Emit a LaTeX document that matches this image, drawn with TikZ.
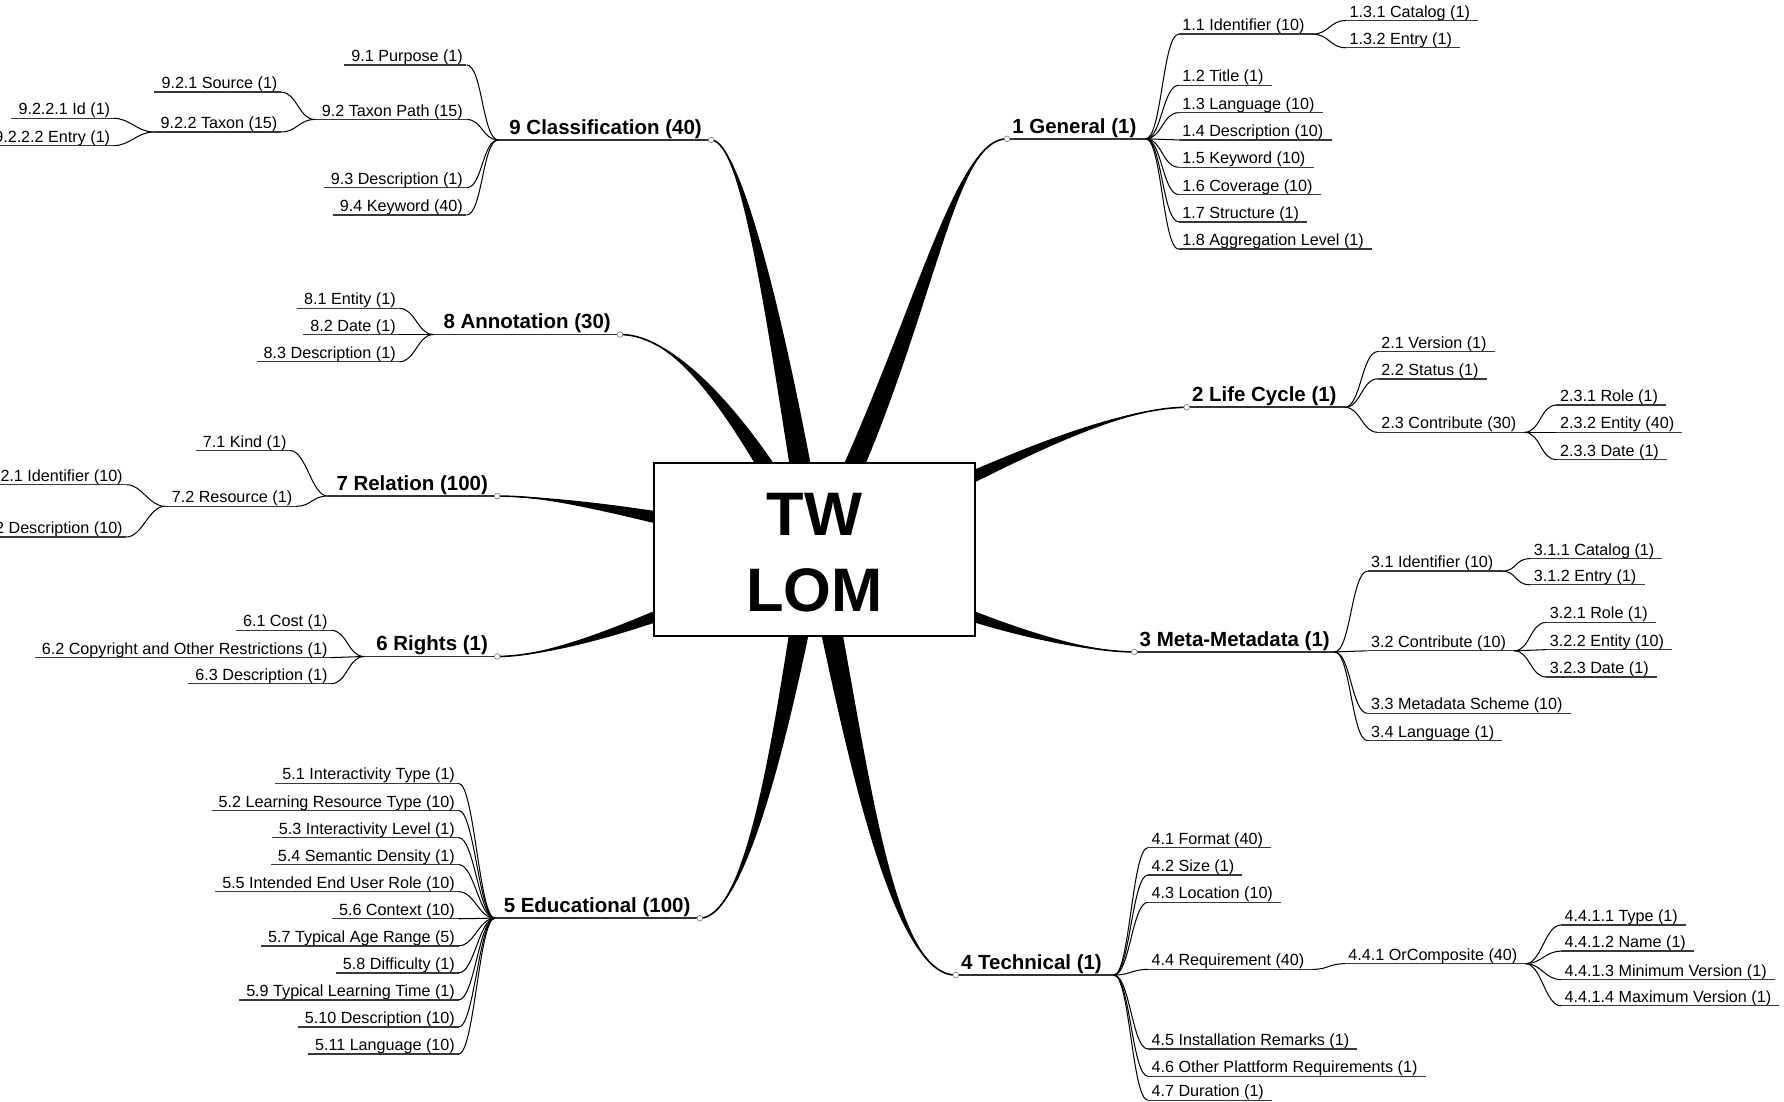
\documentclass[tikz,border=0pt]{standalone}
\usepackage{fontspec}
\setmainfont{Liberation Sans}
\usetikzlibrary{calc}

\tikzset{
  leaf/.style={inner sep=0pt, font=\fontsize{14.2}{17}\selectfont},
  head/.style={inner sep=0pt, font=\bfseries\fontsize{18}{21}\selectfont},
  uline/.style={draw=black!78, line width=1.2pt},
  hline/.style={draw=black!80, line width=1.5pt},
  twig/.style={draw=black, line width=0.9pt},
  knob/.style={circle, draw=black!50, fill=white, line width=0.6pt, inner sep=0pt, minimum size=5pt},
  limbfill/.style={fill=black},
  limbline/.style={draw=black, line width=1.4pt},
  hubbox/.style={draw=black, line width=1.3pt, fill=white, minimum width=282pt, minimum height=152pt, inner sep=0pt},
  hubtext/.style={font=\bfseries\fontsize{54}{67}\selectfont, align=center, inner sep=0pt},
}

% leaf to the right of its parent: name, underline start x, underline y, text
\newcommand\leafR[4]{%
  \coordinate (#1-a) at (#2,#3);
  \node[leaf, anchor=base west] (#1) at ([xshift=3pt,yshift=3pt]#1-a) {#4};
  \path (#1.east |- #1-a) ++(7,0) coordinate (#1-b);
  \draw[uline] (#1-a) -- (#1-b);}
% leaf to the left of its parent: name, underline end x, underline y, text
\newcommand\leafL[4]{%
  \coordinate (#1-a) at (#2,#3);
  \node[leaf, anchor=base east] (#1) at ([xshift=-3pt,yshift=3pt]#1-a) {#4};
  \path (#1.west |- #1-a) ++(-6,0) coordinate (#1-b);
  \draw[uline] (#1-b) -- (#1-a);}
% fan curves
\newcommand\twigR[2]{\draw[twig] (#1) .. controls +(14,0) and +(-14,0) .. (#2);}
\newcommand\twigL[2]{\draw[twig] (#1) .. controls +(-14,0) and +(14,0) .. (#2);}
% main topic labels
\newcommand\headR[2]{%
  \draw[hline] (#1-k) -- (#1-f);
  \node[head, anchor=base west] (#1) at ([xshift=4.5pt,yshift=5pt]#1-k) {#2};
  \node[knob] (#1-o) at (#1-k) {};}
\newcommand\headL[2]{%
  \draw[hline] (#1-f) -- (#1-k);
  \node[head, anchor=base east] (#1) at ([xshift=-8pt,yshift=5pt]#1-k) {#2};
  \node[knob] (#1-o) at (#1-k) {};}
% tapered main branch from the hub: end, control 1, control 2, half width
\newcommand\limb[4]{%
  \fill[limbfill] ($(hub)+(#4)$) .. controls ($(#2)+(#4)$) and (#3) .. (#1)
     .. controls (#3) and ($(#2)-(#4)$) .. ($(hub)-(#4)$) -- cycle;
  \draw[limbline] (hub) .. controls (#2) and (#3) .. (#1);}

\begin{document}
\begin{tikzpicture}[x=1pt, y=-1pt]
\useasboundingbox (0,0) rectangle (1568,968);
\clip (0,0) rectangle (1568,968);
\fill[white] (0,0) rectangle (1568,968);

% hub and main topic anchors
\coordinate (hub) at (716,483);
\coordinate (h1-k) at (885,122);  \coordinate (h1-f) at (1007,122);
\coordinate (h2-k) at (1043,358); \coordinate (h2-f) at (1182,358);
\coordinate (h3-k) at (997,573);  \coordinate (h3-f) at (1173,573);
\coordinate (h4-k) at (840,857);  \coordinate (h4-f) at (979,857);
\coordinate (h5-k) at (615,807);  \coordinate (h5-f) at (435,807);
\coordinate (h6-k) at (437,577);  \coordinate (h6-f) at (320,577);
\coordinate (h7-k) at (437,436);  \coordinate (h7-f) at (288,436);
\coordinate (h8-k) at (545,294);  \coordinate (h8-f) at (381,294);
\coordinate (h9-k) at (625,123);  \coordinate (h9-f) at (438,123);

% main branches
\limb{h1-k}{810,300}{835,122}{10,0}
\limb{h9-k}{690,330}{655,123}{10,0}
\limb{h8-k}{660,380}{600,294}{10,0}
\limb{h7-k}{600,460}{500,436}{0,9}
\limb{h6-k}{610,530}{500,577}{0,9}
\limb{h2-k}{820,440}{960,358}{0,9}
\limb{h3-k}{810,530}{930,573}{0,9}
\limb{h5-k}{700,560}{665,807}{10,0}
\limb{h4-k}{750,640}{780,857}{10,0}

% central topic
\node[hubbox] (root) at (hub) {};
\node[hubtext] (roottext) at (716,486) {TW\\LOM};

% 1 General
\headR{h1}{1 General (1)}
\leafR{l11}{1036}{30}{1.1 Identifier (10)}
\leafR{l131}{1183}{18}{1.3.1 Catalog (1)}
\leafR{l132}{1183}{42}{1.3.2 Entry (1)}
\leafR{l12}{1036}{75}{1.2 Title (1)}
\leafR{l13}{1036}{99}{1.3 Language (10)}
\leafR{l14}{1036}{123}{1.4 Description (10)}
\leafR{l15}{1036}{147}{1.5 Keyword (10)}
\leafR{l16}{1036}{171}{1.6 Coverage (10)}
\leafR{l17}{1036}{195}{1.7 Structure (1)}
\leafR{l18}{1036}{219}{1.8 Aggregation Level (1)}
\foreach \c in {l11,l12,l13,l14,l15,l16,l17,l18} {\twigR{h1-f}{\c-a}}
\twigR{l11-b}{l131-a}
\twigR{l11-b}{l132-a}

% 2 Life Cycle
\headR{h2}{2 Life Cycle (1)}
\leafR{l21}{1211}{309}{2.1 Version (1)}
\leafR{l22}{1211}{333}{2.2 Status (1)}
\leafR{l23}{1211}{380}{2.3 Contribute (30)}
\leafR{l231}{1368}{356}{2.3.1 Role (1)}
\leafR{l232}{1368}{380}{2.3.2 Entity (40)}
\leafR{l233}{1368}{404}{2.3.3 Date (1)}
\foreach \c in {l21,l22,l23} {\twigR{h2-f}{\c-a}}
\foreach \c in {l231,l232,l233} {\twigR{l23-b}{\c-a}}

% 3 Meta-Metadata
\headR{h3}{3 Meta-Metadata (1)}
\leafR{l31}{1202}{502}{3.1 Identifier (10)}
\leafR{l311}{1345}{491}{3.1.1 Catalog (1)}
\leafR{l312}{1345}{514}{3.1.2 Entry (1)}
\leafR{l32}{1202}{572}{3.2 Contribute (10)}
\leafR{l321}{1359}{547}{3.2.1 Role (1)}
\leafR{l322}{1359}{571}{3.2.2 Entity (10)}
\leafR{l323}{1359}{595}{3.2.3 Date (1)}
\leafR{l33}{1202}{627}{3.3 Metadata Scheme (10)}
\leafR{l34}{1202}{651}{3.4 Language (1)}
\foreach \c in {l31,l32,l33,l34} {\twigR{h3-f}{\c-a}}
\foreach \c in {l311,l312} {\twigR{l31-b}{\c-a}}
\foreach \c in {l321,l322,l323} {\twigR{l32-b}{\c-a}}

% 4 Technical
\headR{h4}{4 Technical (1)}
\leafR{l41}{1009}{745}{4.1 Format (40)}
\leafR{l42}{1009}{769}{4.2 Size (1)}
\leafR{l43}{1009}{793}{4.3 Location (10)}
\leafR{l44}{1009}{852}{4.4 Requirement (40)}
\leafR{l441}{1182}{847}{4.4.1 OrComposite (40)}
\leafR{l4411}{1372}{813}{4.4.1.1 Type (1)}
\leafR{l4412}{1372}{836}{4.4.1.2 Name (1)}
\leafR{l4413}{1372}{861}{4.4.1.3 Minimum Version (1)}
\leafR{l4414}{1372}{884}{4.4.1.4 Maximum Version (1)}
\leafR{l45}{1009}{922}{4.5 Installation Remarks (1)}
\leafR{l46}{1009}{946}{4.6 Other Plattform Requirements (1)}
\leafR{l47}{1009}{967}{4.7 Duration (1)}
\foreach \c in {l41,l42,l43,l44,l45,l46,l47} {\twigR{h4-f}{\c-a}}
\twigR{l44-b}{l441-a}
\foreach \c in {l4411,l4412,l4413,l4414} {\twigR{l441-b}{\c-a}}

% 5 Educational
\headL{h5}{5 Educational (100)}
\leafL{l51}{403}{688.5}{5.1 Interactivity Type (1)}
\leafL{l52}{403}{712.3}{5.2 Learning Resource Type (10)}
\leafL{l53}{403}{736.1}{5.3 Interactivity Level (1)}
\leafL{l54}{403}{759.9}{5.4 Semantic Density (1)}
\leafL{l55}{403}{783.7}{5.5 Intended End User Role (10)}
\leafL{l56}{403}{807.5}{5.6 Context (10)}
\leafL{l57}{403}{831.3}{5.7 Typical Age Range (5)}
\leafL{l58}{403}{855.1}{5.8 Difficulty (1)}
\leafL{l59}{403}{878.9}{5.9 Typical Learning Time (1)}
\leafL{l510}{403}{902.7}{5.10 Description (10)}
\leafL{l511}{403}{926.5}{5.11 Language (10)}
\foreach \c in {l51,l52,l53,l54,l55,l56,l57,l58,l59,l510,l511} {\twigL{h5-f}{\c-a}}

% 6 Rights
\headL{h6}{6 Rights (1)}
\leafL{l61}{291}{554}{6.1 Cost (1)}
\leafL{l62}{291}{578}{6.2 Copyright and Other Restrictions (1)}
\leafL{l63}{291}{601}{6.3 Description (1)}
\foreach \c in {l61,l62,l63} {\twigL{h6-f}{\c-a}}

% 7 Relation
\headL{h7}{7 Relation (100)}
\leafL{l71}{255}{396}{7.1 Kind (1)}
\leafL{l72}{260}{445}{7.2 Resource (1)}
\leafL{l721}{111}{426}{7.2.1 Identifier (10)}
\leafL{l722}{111}{472}{7.2.2 Description (10)}
\foreach \c in {l71,l72} {\twigL{h7-f}{\c-a}}
\foreach \c in {l721,l722} {\twigL{l72-b}{\c-a}}

% 8 Annotation
\headL{h8}{8 Annotation (30)}
\leafL{l81}{351}{271}{8.1 Entity (1)}
\leafL{l82}{351}{294}{8.2 Date (1)}
\leafL{l83}{351}{318}{8.3 Description (1)}
\foreach \c in {l81,l82,l83} {\twigL{h8-f}{\c-a}}

% 9 Classification
\headL{h9}{9 Classification (40)}
\leafL{l91}{410}{57}{9.1 Purpose (1)}
\leafL{l92}{410}{105}{9.2 Taxon Path (15)}
\leafL{l921}{247}{81}{9.2.1 Source (1)}
\leafL{l922}{247}{116}{9.2.2 Taxon (15)}
\leafL{l9221}{100}{104}{9.2.2.1 Id (1)}
\leafL{l9222}{100}{128}{9.2.2.2 Entry (1)}
\leafL{l93}{410}{165}{9.3 Description (1)}
\leafL{l94}{410}{189}{9.4 Keyword (40)}
\foreach \c in {l91,l92,l93,l94} {\twigL{h9-f}{\c-a}}
\foreach \c in {l921,l922} {\twigL{l92-b}{\c-a}}
\foreach \c in {l9221,l9222} {\twigL{l922-b}{\c-a}}
\end{tikzpicture}
\end{document}
